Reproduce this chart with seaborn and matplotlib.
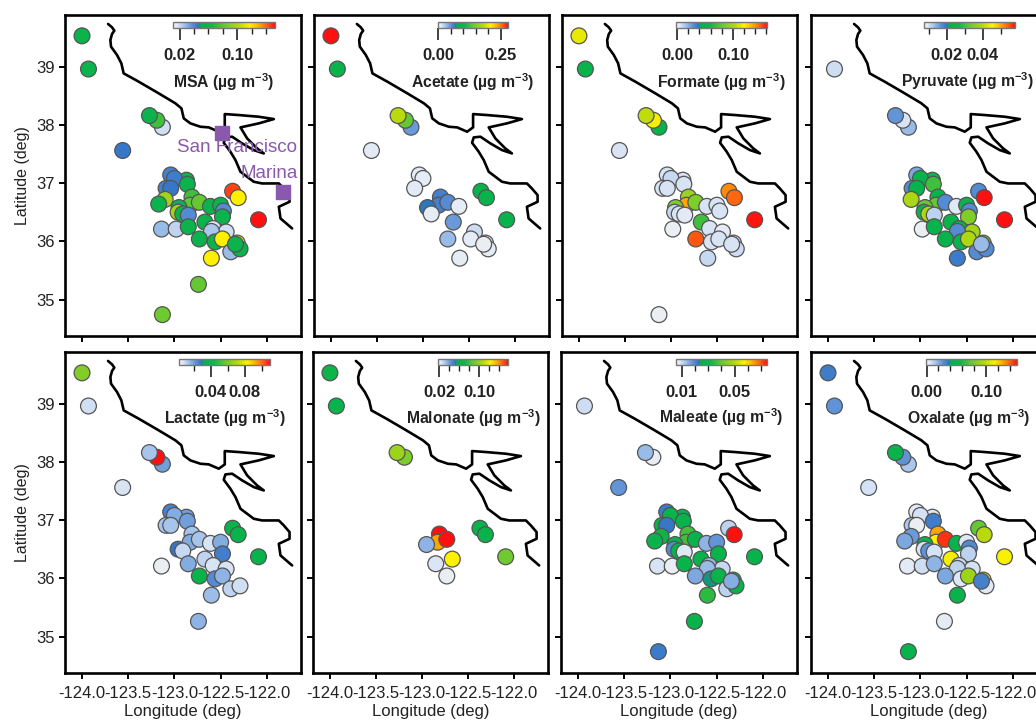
import numpy as np
import pandas as pd
import seaborn as sns
import matplotlib
matplotlib.use("Agg")
import matplotlib.pyplot as plt
from matplotlib.cm import ScalarMappable
from matplotlib.colors import LinearSegmentedColormap, Normalize

nan = np.nan

# ship stations. same order in every species list
lon = [-124.00, -123.93, -123.13, -123.19, -123.27, -123.56, -123.04, -122.87, -123.00, -122.86,
       -123.09, -123.04, -123.10, -123.17, -122.81, -122.83, -122.73, -122.95, -122.96, -122.91,
       -122.85, -123.14, -122.98, -122.85, -122.61, -122.50, -122.47, -122.48, -122.67, -122.58,
       -122.44, -122.60, -122.73, -122.56, -122.48, -122.39, -122.32, -122.29, -122.34, -122.60,
       -122.74, -123.13, -122.37, -122.31, -122.09]
lat = [39.53, 38.96, 37.96, 38.08, 38.16, 37.56, 37.14, 37.05, 37.08, 36.98,
       36.91, 36.91, 36.72, 36.64, 36.76, 36.62, 36.67, 36.58, 36.50, 36.47,
       36.45, 36.21, 36.21, 36.25, 36.60, 36.62, 36.52, 36.42, 36.33, 36.22,
       36.16, 36.17, 36.04, 35.99, 36.04, 35.82, 35.97, 35.87, 35.95, 35.71,
       35.26, 34.74, 36.86, 36.75, 36.37]

msa = [.058, .058, .019, .074, .058, .045, .042, .058, .043, .058,
       .042, .045, .096, .058, .074, .082, .082, .058, .096, .058,
       .039, .028, .022, .058, .058, .058, .039, .058, .058, .017,
       .019, .025, .058, .058, .117, .028, .113, .058, .058, .117,
       .082, .084, .145, .117, .152]
acetate = [.28, .091, .046, .139, .181, .009, .009, nan, .006, nan,
           .009, nan, nan, nan, .060, .060, .054, .069, nan, .006,
           nan, nan, nan, nan, .006, nan, nan, nan, .046, nan,
           .015, nan, .032, nan, .006, nan, .004, .006, .004, .006,
           nan, nan, .091, .091, .091]
formate = [.115, .051, .051, .118, .105, .006, .006, .006, .009, .006,
           .006, .006, nan, nan, .095, .136, .087, .087, .009, .006,
           .004, nan, .001, nan, .006, .006, .006, nan, .071, .006,
           .003, nan, .150, .006, .006, nan, .006, .008, .006, .009,
           nan, .001, .141, .147, .160]
pyruvate = [nan, .0103, .0134, .0098, .0164, nan, .015, .024, .024, .030,
            .0174, .024, .039, nan, .024, .033, .0174, .033, .024, .039,
            .0114, nan, .0083, .024, .0093, .024, .0174, .035, .024, .024,
            .038, .0174, .024, .024, .039, .0174, .033, .0174, .0134, .019,
            nan, nan, .0174, .058, .058]
lactate = [.062, .009, .020, .11, .014, .008, .026, .020, .018, .020,
           .014, .014, nan, nan, .014, .018, .014, nan, .029, .010,
           nan, .005, nan, .018, .008, .018, nan, .027, .011, .008,
           .008, nan, .038, .024, .017, .011, nan, .009, nan, .015,
           .017, nan, .038, .038, .038]
malonate = [.068, .064, nan, .094, .101, nan, nan, nan, nan, nan,
            nan, nan, nan, nan, .157, .136, .157, .036, nan, nan,
            nan, nan, nan, .024, nan, nan, nan, nan, .122, nan,
            nan, nan, .021, nan, nan, nan, nan, nan, nan, nan,
            nan, nan, .064, .064, .090]
maleate = [nan, .0099, nan, .0072, .014, .0181, .0216, .0284, .0284, .0284,
           .0284, .0222, .0298, .0284, .0366, .0366, .0284, .0284, .0195, .0284,
           .0085, .0092, .0072, .0284, .0147, .0181, nan, .0284, .0284, .014,
           .0106, .014, .016, .0236, .0284, .0113, .0284, .0284, .0154, .0346,
           .0284, .0216, .0113, .0743, .0284]
oxalate = [.034, .027, .014, .027, .049, .007, .004, .005, .007, .034,
           .014, .002, .025, .022, .129, .114, .147, .049, .007, .027,
           .007, .004, .008, .019, .049, .005, .030, .011, .111, .008,
           .007, .011, .022, .005, .091, nan, .106, .005, .033, .049,
           .004, .049, .076, .098, .112]

species = ["MSA", "Acetate", "Formate", "Pyruvate", "Lactate", "Malonate", "Maleate", "Oxalate"]
series = [msa, acetate, formate, pyruvate, lactate, malonate, maleate, oxalate]

# colour scale limits and ticks of each small colour bar
scale_min = [.011, -.002, -.002, .0073, .0028, .018, .0058, -.001]
scale_max = [.152, .28, .161, .058, .11, .157, .0743, .152]
major_ticks = [[.02, .10], [0, .25], [0, .10], [.02, .04], [.04, .08], [.02, .10], [.01, .05], [0, .10]]
minor_ticks = [[.04, .06, .08, .12, .14],
               [.05, .10, .15, .20],
               [.02, .04, .06, .08, .12, .14, .16],
               [.01, .03, .05],
               [.02, .06, .10],
               [.04, .06, .08, .12, .14],
               [.02, .03, .04, .06, .07],
               [.02, .04, .06, .08, .12, .14]]

# coastline
coast_lon = [-123.718, -123.675, -123.650, -123.675, -123.693, -123.686, -123.621, -123.574, -123.549,
             -123.386, -123.170, -122.989, -122.924, -122.899, -122.827, -122.718, -122.628, -122.520,
             -122.455, -122.455, -122.303, -122.087, -121.924, -122.087, -122.285, -122.213, -122.105,
             -122.033, -122.141, -122.267, -122.375, -122.448, -122.466, -122.394, -122.339, -122.285,
             -122.141, -122.051, -121.870, -121.816, -121.754, -121.754, -121.870, -121.852, -121.726]
coast_lat = [39.734, 39.676, 39.619, 39.562, 39.458, 39.344, 39.201, 39.057, 38.885,
             38.742, 38.542, 38.370, 38.284, 38.112, 38.026, 37.968, 37.957, 37.883,
             37.957, 38.186, 38.169, 38.140, 38.100, 38.026, 37.957, 37.768, 37.596,
             37.510, 37.567, 37.682, 37.797, 37.785, 37.693, 37.539, 37.395, 37.195,
             37.023, 36.994, 36.994, 36.908, 36.794, 36.679, 36.593, 36.393, 36.221]

x_ticks = [-124.0, -123.5, -123.0, -122.5, -122.0]
x_tick_labels = ["-124.0", "-123.5", "-123.0", "-122.5", "-122.0"]
y_ticks = [35, 36, 37, 38, 39]

W, H = 1036, 720
PURPLE = "#8a58ad"

sns.set_style("white")
plt.rcParams["font.family"] = ["Liberation Sans", "DejaVu Sans"]
plt.rcParams["mathtext.default"] = "regular"
plt.rcParams["axes.unicode_minus"] = False

stops = [(0, "#f2f2f0"), (.035, "#e3eaf6"), (.1, "#a9c6ec"), (.18, "#5f93d6"), (.25, "#2f72c4"),
         (.265, "#00b04f"), (.38, "#10b548"), (.5, "#64c834"), (.65, "#bada0c"), (.75, "#fff200"),
         (.85, "#ffa500"), (.93, "#ff5a10"), (1, "#ff1010")]
cmap = LinearSegmentedColormap.from_list("conc", stops)

df = pd.DataFrame({"lon": lon, "lat": lat})
for name, vals in zip(species, series):
    df[name] = vals


def px_axes(fig, left, top, right, bottom):
    # axes placed by pixel edges, y counted from the top of the picture
    return fig.add_axes([left / W, 1 - bottom / H, (right - left) / W, (bottom - top) / H])


fig = plt.figure(figsize=(W / 100, H / 100), dpi=100)

# left, right of each panel, top, bottom of each row
panel_x = [(65, 301), (314, 549), (562, 797), (811, 1047), (65, 301), (313, 548), (561, 797), (811, 1047)]
panel_y = [(15, 336)] * 4 + [(352, 673)] * 4
bar_x = [(173, 275), (438, 508), (676, 767), (924, 1015), (179, 270), (438, 508), (676, 767), (926, 1017)]
bar_y = [(22, 28)] * 4 + [(359, 365)] * 4
label_xy = [(224, 82), (473, 82), (721, 82), (967, 81), (225, 418), (473, 418), (721, 417), (969, 418)]

for i, name in enumerate(species):
    ax = px_axes(fig, panel_x[i][0], panel_y[i][0], panel_x[i][1], panel_y[i][1])
    norm = Normalize(scale_min[i], scale_max[i])

    ax.plot(coast_lon, coast_lat, color="black", lw=1.9, zorder=1)
    sub = df.dropna(subset=[name])
    sns.scatterplot(data=sub, x="lon", y="lat", hue=name, hue_norm=norm, palette=cmap, s=130,
                    edgecolor="#555555", linewidth=0.9, legend=False, ax=ax, zorder=2)

    ax.set_xlim(-124.184, -121.63)
    ax.set_ylim(34.373, 39.888)
    ax.set_xticks(x_ticks)
    ax.set_yticks(y_ticks)
    ax.tick_params(direction="out", length=4, width=1.4, color="black", labelsize=12,
                   labelcolor="#222222", pad=3.5, left=True, bottom=True)
    ax.tick_params(axis="x", pad=5.5)
    for sp in ax.spines.values():
        sp.set_linewidth(1.9)
        sp.set_color("black")
    ax.set_xlabel("")
    ax.set_ylabel("")
    if i >= 4:
        ax.set_xticklabels(x_tick_labels)
        ax.set_xlabel("Longitude (deg)", fontsize=12, color="#222222", labelpad=2)
    else:
        ax.set_xticklabels([])
    if i in (0, 4):
        ax.set_ylabel("Latitude (deg)", fontsize=11.5, color="#222222", labelpad=4)
    else:
        ax.set_yticklabels([])

    if i == 0:
        ax.scatter([-122.487, -121.82], [37.854, 36.85], marker="s", s=90, color=PURPLE, zorder=3)
        ax.text(-122.32, 37.62, "San Francisco", color=PURPLE, fontsize=13.5,
                ha="center", va="center", zorder=4, clip_on=False)
        ax.text(-121.97, 37.17, "Marina", color=PURPLE, fontsize=13.5,
                ha="center", va="center", zorder=4, clip_on=False)

    # colour bar inside the panel
    cax = px_axes(fig, bar_x[i][0], bar_y[i][0], bar_x[i][1], bar_y[i][1])
    cbar = fig.colorbar(ScalarMappable(norm=norm, cmap=cmap), cax=cax, orientation="horizontal")
    cbar.outline.set_edgecolor("#777777")
    cbar.outline.set_linewidth(1.0)
    cax.xaxis.set_ticks_position("bottom")
    cax.set_xticks(major_ticks[i])
    cax.set_xticklabels(["%.2f" % t for t in major_ticks[i]])
    cax.set_xticks(minor_ticks[i], minor=True)
    cax.tick_params(axis="x", which="major", direction="out", length=8.5, width=1.2, color="#222222",
                    labelsize=12, labelcolor="#222222", pad=6, bottom=True)
    cax.tick_params(axis="x", which="minor", direction="out", length=4.5, width=1.0, color="#222222",
                    bottom=True)
    for t in cax.get_xticklabels():
        t.set_fontweight("bold")

    fig.text(label_xy[i][0] / W, 1 - label_xy[i][1] / H, name + " (µg m$^{-3}$)", fontsize=11.3,
             fontweight="bold", color="#222222", ha="center", va="center")

fig.savefig("out.png", dpi=100)
plt.close(fig)
